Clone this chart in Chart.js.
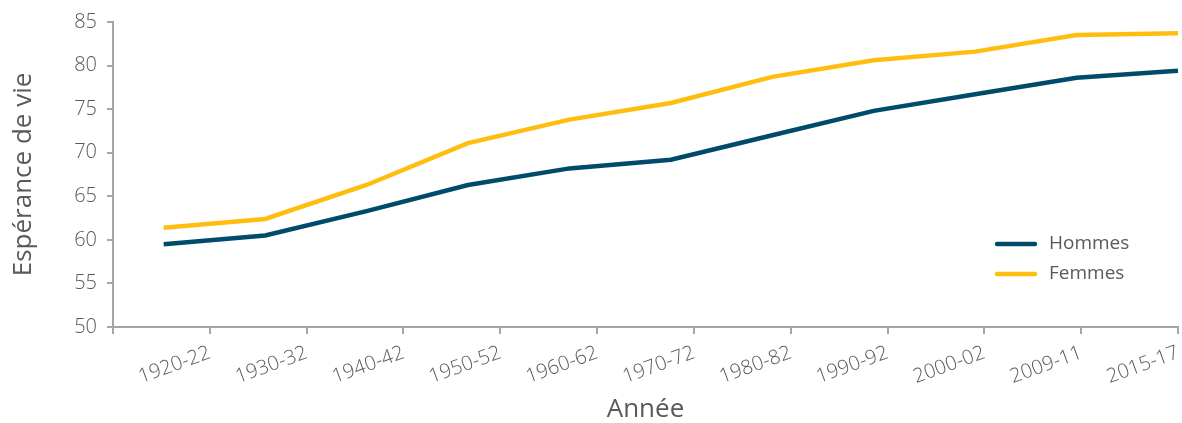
<!DOCTYPE html>
<html>
<head>
<meta charset="utf-8">
<script src="https://cdn.jsdelivr.net/npm/chart.js@4/dist/chart.umd.min.js"></script>
<style>
html,body{margin:0;padding:0;background:#fff;}
#wrap{position:relative;width:1182px;height:423px;}
</style>
</head>
<body>
<div id="wrap"><canvas id="c" width="1182" height="423"></canvas></div>
<script>
const categories = ["1920-22","1930-32","1940-42","1950-52","1960-62","1970-72","1980-82","1990-92","2000-02","2009-11","2015-17"];
const hommes = [59.5, 60.5, 63.3, 66.3, 68.2, 69.2, 72.0, 74.8, 76.7, 78.6, 79.4];
const femmes = [61.4, 62.4, 66.3, 71.1, 73.8, 75.7, 78.7, 80.6, 81.6, 83.5, 83.7];
const yTicks = [50, 55, 60, 65, 70, 75, 80, 85];
const seriesNames = ["Hommes", "Femmes"];
const colors = ["#004B6B", "#FFBE0F"];
const FONT = "'Open Sans', 'DejaVu Sans', sans-serif";
const TXT = "#595959";
const AXIS = "#A6A6A6";

const legendPlugin = {
  id: 'insideLegend',
  afterDraw(chart) {
    const ctx = chart.ctx;
    ctx.save();
    chart.data.datasets.forEach((ds, i) => {
      const y = 244 + i * 30;
      ctx.strokeStyle = ds.borderColor;
      ctx.lineWidth = 4.5;
      ctx.lineCap = 'round';
      ctx.beginPath();
      ctx.moveTo(997, y);
      ctx.lineTo(1035, y);
      ctx.stroke();
      ctx.fillStyle = TXT;
      ctx.font = "19px " + FONT;
      ctx.textBaseline = 'middle';
      ctx.textAlign = 'left';
      ctx.fillText(ds.label, 1049, y);
    });
    ctx.restore();
  }
};

new Chart(document.getElementById('c'), {
  type: 'line',
  data: {
    datasets: [
      { label: seriesNames[0], data: hommes.map((v, i) => ({x: i, y: v})), borderColor: colors[0], backgroundColor: colors[0], borderWidth: 4.5, pointRadius: 0, tension: 0, xAxisID: 'x', yAxisID: 'y' },
      { label: seriesNames[1], data: femmes.map((v, i) => ({x: i, y: v})), borderColor: colors[1], backgroundColor: colors[1], borderWidth: 4.5, pointRadius: 0, tension: 0, xAxisID: 'x', yAxisID: 'y' }
    ]
  },
  options: {
    responsive: false,
    animation: false,
    devicePixelRatio: 1,
    layout: { padding: { top: 15, right: 4, left: 8, bottom: 0 } },
    plugins: { legend: { display: false }, tooltip: { enabled: false } },
    scales: {
      x: {
        type: 'linear', display: false, min: -0.5, max: 10
      },
      x2: {
        type: 'linear', position: 'bottom', min: 0, max: categories.length,
        afterBuildTicks(scale) {
          const t = [];
          for (let k = 0; k <= categories.length; k++) t.push({ value: k });
          scale.ticks = t;
        },
        ticks: {
          autoSkip: false, maxRotation: 20, minRotation: 20, padding: 7,
          color: TXT, font: { family: FONT, size: 20, weight: '300' },
          callback: (v) => (v >= 1 ? categories[v - 1] : '')
        },
        grid: { drawOnChartArea: false, drawTicks: true, tickLength: 7, color: AXIS, lineWidth: 2 },
        border: { color: AXIS, width: 2 },
        title: { display: true, text: 'Année', color: TXT, font: { family: FONT, size: 26, lineHeight: 1.0 }, padding: { top: 4, bottom: 0 } },
        afterFit(scale) { scale.height = 96; scale.paddingLeft = 0; scale.paddingRight = 0; }
      },
      y: {
        min: 50, max: 85,
        afterBuildTicks(scale) { scale.ticks = yTicks.map(v => ({ value: v })); },
        ticks: { color: TXT, font: { family: FONT, size: 20, weight: '300' }, padding: 10 },
        grid: { drawOnChartArea: false, drawTicks: true, tickLength: 6, color: AXIS, lineWidth: 2 },
        border: { color: AXIS, width: 2 },
        title: { display: true, text: 'Espérance de vie', color: TXT, font: { family: FONT, size: 26 }, padding: { top: 0, bottom: 10 } },
        afterFit(scale) { scale.width = 105; }
      }
    }
  },
  plugins: [legendPlugin]
});
</script>
</body>
</html>
